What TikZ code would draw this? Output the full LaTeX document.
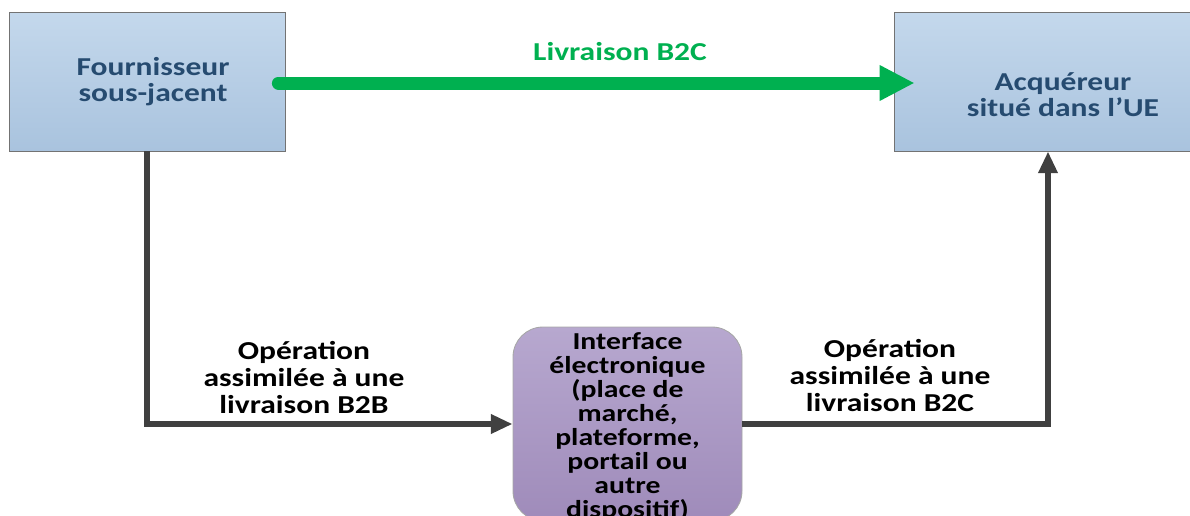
\documentclass[tikz,border=0pt]{standalone}
\usepackage{fontspec}
\setmainfont{Carlito}[FakeStretch=1.22]
\usetikzlibrary{arrows.meta,positioning}
\definecolor{bleuhaut}{HTML}{C4D8EC}
\definecolor{bleubas}{HTML}{A9C3DE}
\definecolor{bleutexte}{HTML}{264B70}
\definecolor{mauvehaut}{HTML}{B7A8CF}
\definecolor{mauvebas}{HTML}{9F8BBA}
\definecolor{vertlivr}{HTML}{00B050}
\definecolor{gris}{HTML}{404040}
\begin{document}
\begin{tikzpicture}[x=0.6pt,y=-0.6pt,
    partie/.style={draw=gray!90!black, line width=0.5pt, top color=bleuhaut, bottom color=bleubas},
    titre/.style={align=center, text=bleutexte, font=\bfseries\fontsize{15.5}{15.5}\selectfont},
    plateforme/.style={draw=gray!70, line width=0.5pt, rounded corners=18pt, top color=mauvehaut, bottom color=mauvebas,
      align=center, inner sep=0pt, font=\bfseries\fontsize{14.6}{14.4}\selectfont},
    op/.style={align=center, font=\bfseries\fontsize{15.5}{16.2}\selectfont},
    flux/.style={draw=gris, line width=3.6pt, -{Triangle[length=13pt,width=11pt]}},
    livr/.style={draw=vertlivr, line width=7.8pt, line cap=round, -{Triangle[length=21pt,width=20pt]}}]
  \useasboundingbox (0,0) rectangle (1190,515);
  % les deux parties
  \node[partie, minimum width=165.6pt, minimum height=83.4pt] (fourn) at (147,81.5) {};
  \node[titre] (fourntxt) at (153,82) {Fournisseur\\sous-jacent};
  \node[partie, minimum width=184.8pt, minimum height=83.4pt] (acq) at (1048,81.5) {};
  \node[titre] (acqtxt) at (1063,95) {Acquéreur\\situé dans l’UE};
  % l'interface
  \node[plateforme, minimum width=137.4pt, minimum height=116.4pt] (iface) at (627.5,424) {};
  \node[align=center, font=\bfseries\fontsize{14.6}{14.4}\selectfont] (ifacetxt) at (627.5,427)
    {Interface\\électronique\\(place de\\marché,\\plateforme,\\portail ou\\autre\\dispositif)};
  % livraison directe
  \draw[livr] ([xshift=-4.2pt,yshift=-0.9pt]fourn.east) -- ([xshift=12.6pt,yshift=-0.9pt]acq.west);
  \node[font=\bfseries\fontsize{15.5}{15.5}\selectfont, text=vertlivr] (b2c) at (620,52) {Livraison B2C};
  % operations assimilees
  \draw[flux] (fourn.south) |- (iface.west);
  \draw[flux] (iface.east) -| (acq.south);
  \node[op] (opb2b) at (304,378) {Opération\\assimilée à une\\livraison B2B};
  \node[op] (opb2c) at (890,376) {Opération\\assimilée à une\\livraison B2C};
\end{tikzpicture}
\end{document}
